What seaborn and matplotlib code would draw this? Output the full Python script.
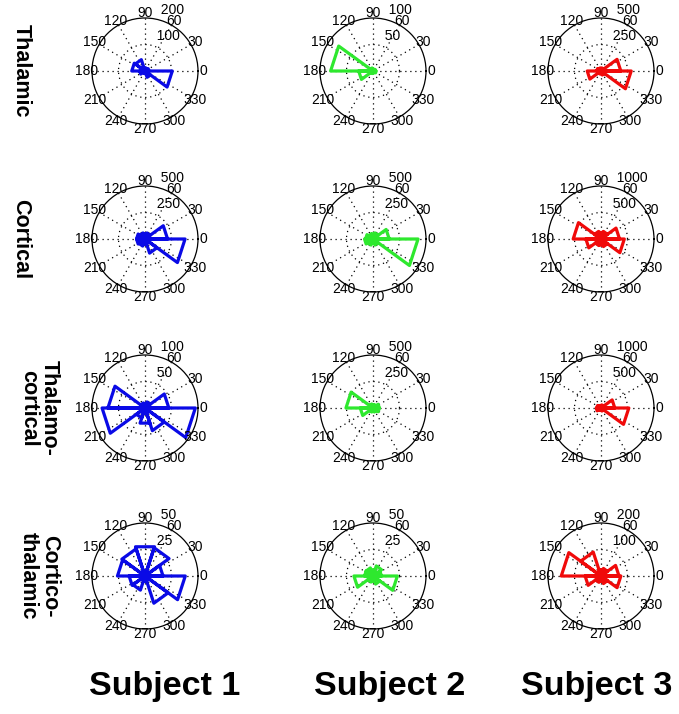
import numpy as np
import pandas as pd
import matplotlib
matplotlib.use("Agg")
import matplotlib.pyplot as plt
import seaborn as sns

sns.set_style("white")
plt.rcParams["font.family"] = ["Liberation Sans", "DejaVu Sans"]
plt.rcParams["text.color"] = "black"

# ---------------- data ----------------
row_labels = ["Thalamic", "Cortical", "Thalamo-\ncortical", "Cortico-\nthalamic"]
subject_labels = ["Subject 1", "Subject 2", "Subject 3"]
subject_colors = ["#0a0ae6", "#2ee82e", "#f00a0a"]

# 10 angular bins of 36 degrees, starting at 0 deg (counter-clockwise)
bin_edges_deg = [0, 36, 72, 108, 144, 180, 216, 252, 288, 324, 360]
angle_labels = [0, 30, 60, 90, 120, 150, 180, 210, 240, 270, 300, 330]

# counts per bin (bins 0-36, 36-72, ..., 324-360)
thalamic_s1 = [15, 10, 12, 45, 50, 20, 8, 10, 25, 103]
thalamic_s2 = [5, 3, 4, 6, 80, 27, 5, 3, 4, 6]
thalamic_s3 = [187, 30, 25, 30, 40, 130, 30, 25, 40, 285]
cortical_s1 = [213, 60, 50, 60, 80, 80, 70, 50, 140, 378]
cortical_s2 = [153, 60, 50, 50, 70, 80, 60, 40, 60, 425]
cortical_s3 = [350, 150, 130, 150, 525, 285, 130, 120, 150, 440]
thalcort_s1 = [45, 12, 8, 10, 70, 81, 20, 30, 45, 95]
thalcort_s2 = [60, 35, 30, 40, 255, 120, 40, 30, 40, 60]
thalcort_s3 = [260, 60, 50, 50, 80, 90, 50, 40, 60, 525]
cortthal_s1 = [17, 28, 29, 27, 26, 15, 14, 5, 27, 38]
cortthal_s2 = [8, 10, 6, 8, 8, 18, 6, 5, 8, 23]
cortthal_s3 = [68, 30, 25, 95, 150, 60, 25, 20, 30, 75]

panel_counts = [
    [thalamic_s1, thalamic_s2, thalamic_s3],
    [cortical_s1, cortical_s2, cortical_s3],
    [thalcort_s1, thalcort_s2, thalcort_s3],
    [cortthal_s1, cortthal_s2, cortthal_s3],
]
# outer radius of each polar panel
panel_rmax = [
    [200, 100, 500],
    [500, 500, 1000],
    [100, 500, 1000],
    [50, 50, 200],
]

# ---------------- layout ----------------
W, H = 679, 714
fig = plt.figure(figsize=(W / 100, H / 100), dpi=100, facecolor="white")

col_cx = [145, 373, 601]
row_cy = [71, 239, 408, 576]
R = 53  # pixel radius of each polar circle

dot = (0, (1, 3))
tick_fs = 10

for ri in range(4):
    for ci in range(3):
        cx, cy = col_cx[ci], row_cy[ri]
        ax = fig.add_axes([(cx - R) / W, (H - cy - R) / H, 2 * R / W, 2 * R / H],
                          projection="polar")
        rmax = panel_rmax[ri][ci]
        counts = panel_counts[ri][ci]
        ax.set_ylim(0, rmax)
        ax.grid(False)
        ax.set_xticks([])
        ax.set_yticks([])
        ax.spines["polar"].set_linewidth(0.9)
        ax.spines["polar"].set_color("black")
        ax.set_facecolor("white")

        # dotted inner ring and spokes
        tt = np.linspace(0, 2 * np.pi, 240)
        ax.plot(tt, np.full_like(tt, rmax / 2), ls=dot, lw=0.9, color="black")
        for a in range(0, 180, 30):
            t = np.deg2rad(a)
            ax.plot([t, t], [rmax, 0], ls=dot, lw=0.9, color="black")
            ax.plot([t + np.pi, t + np.pi], [rmax, 0], ls=dot, lw=0.9, color="black")

        # rose outline: origin -> edge a0 -> edge a1 -> origin, for each bin
        th, rr = [], []
        for b in range(10):
            a0 = np.deg2rad(bin_edges_deg[b])
            a1 = np.deg2rad(bin_edges_deg[b + 1])
            th += [0.0, a0, a1, 0.0]
            rr += [0.0, counts[b], counts[b], 0.0]
        df = pd.DataFrame({"theta": th, "r": rr})
        sns.lineplot(data=df, x="theta", y="r", sort=False, estimator=None,
                     color=subject_colors[ci], lw=2.3, ax=ax, legend=False)
        ax.set_xlabel("")
        ax.set_ylabel("")
        ax.set_ylim(0, rmax)

        # angle labels
        for a in angle_labels:
            ax.text(np.deg2rad(a), 1.1 * rmax, str(a), ha="center", va="center",
                    fontsize=tick_fs, color="black", clip_on=False)
        # radial labels
        rinc = rmax / 2
        for rv in [rinc, rmax]:
            ax.text(np.deg2rad(82), rv + rinc / 20, "  " + str(int(rv)),
                    ha="left", va="bottom", fontsize=tick_fs, color="black",
                    clip_on=False)

# row labels
row_lx = [21, 21, 39, 39]
for ri, lab in enumerate(row_labels):
    fig.text(row_lx[ri] / W, 1 - row_cy[ri] / H, lab, rotation=270,
             ha="center", va="center", fontsize=15.5, fontweight="bold",
             color="black", multialignment="center", linespacing=1.0)

# subject labels
subj_x = [165, 390, 597]
for ci, lab in enumerate(subject_labels):
    fig.text(subj_x[ci] / W, 1 - 687 / H, lab, ha="center", va="center",
             fontsize=24.5, fontweight="bold", color="black")

fig.savefig("out.png", dpi=100, facecolor="white")
